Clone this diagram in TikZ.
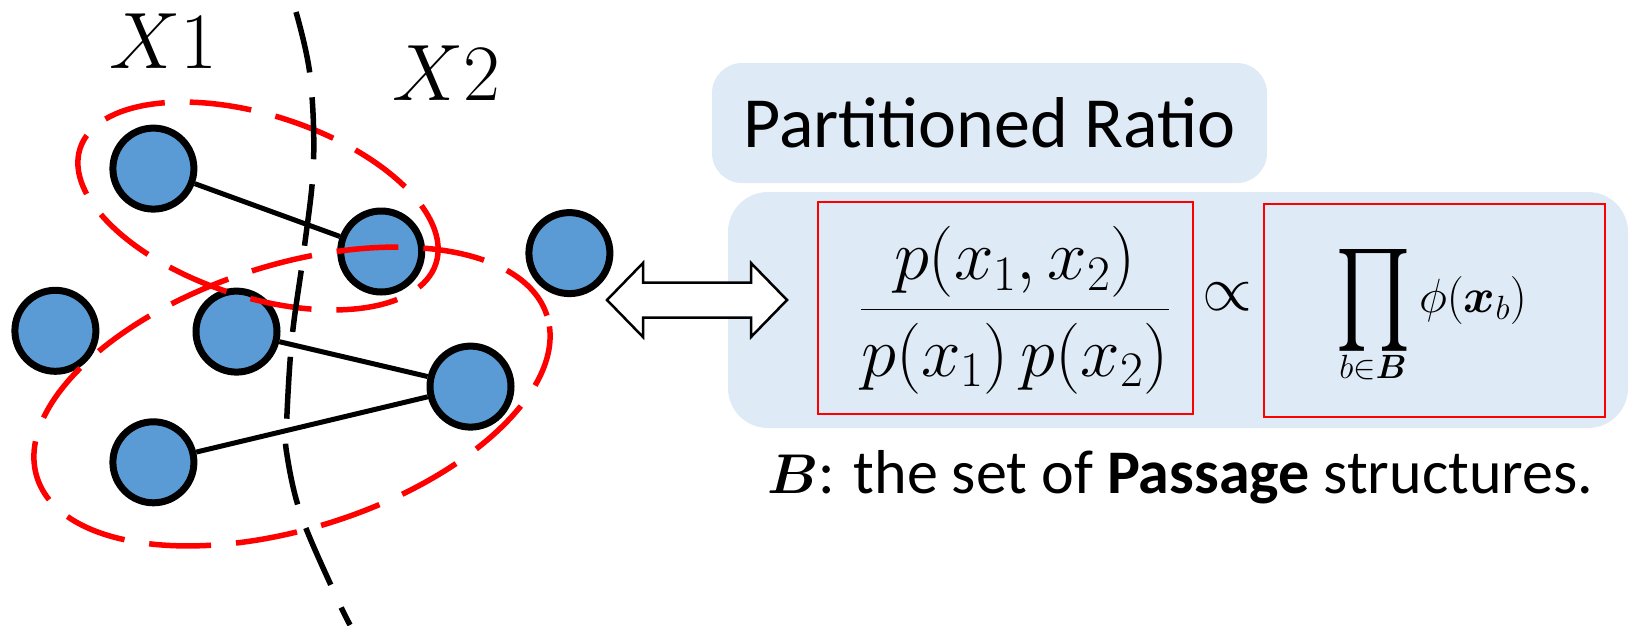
\RequirePackage{fix-cm}
\documentclass[tikz,border=0pt]{standalone}
\usepackage{fontspec}
\setmainfont{Carlito}
\usepackage{amsmath}
\usepackage{graphicx}
\definecolor{nodeblue}{HTML}{5B9BD5}
\definecolor{panelblue}{HTML}{DEEAF6}
\pgfdeclarelayer{edgelayer}
\pgfsetlayers{edgelayer,main}
\begin{document}
\begin{tikzpicture}[x=1pt,y=1pt,
  gnode/.style={circle, draw=black, line width=7pt, fill=nodeblue, minimum size=81pt, inner sep=0pt},
  gedge/.style={line width=5pt, draw=black},
  part/.style={draw=red, line width=5.5pt, dash pattern=on 62pt off 25pt},
  cut/.style={draw=black, line width=5.5pt, dash pattern=on 62pt off 25pt},
  panel/.style={fill=panelblue, draw=none, inner sep=0pt},
  redbox/.style={draw=red, line width=2.2pt, inner sep=0pt},
  dblarrow/.style={draw=black, fill=white, line width=2.5pt, line join=miter},
  lbl/.style={inner sep=0pt, anchor=base}
]
\useasboundingbox (0,0) rectangle (1630,-625);

% left graph
\node[gnode] (n1) at (153.4,-168.6) {};
\node[gnode] (n2) at (381.2,-251.5) {};
\node[gnode] (n3) at (569.4,-253.1) {};
\node[gnode] (n4) at (55.4,-330.8) {};
\node[gnode] (n5) at (236.5,-331.6) {};
\node[gnode] (n6) at (470.5,-386.6) {};
\node[gnode] (n7) at (153.4,-462.3) {};
\begin{pgfonlayer}{edgelayer}
\draw[gedge] (n1) -- (n2);
\draw[gedge] (n5) -- (n6);
\draw[gedge] (n7) -- (n6);
\end{pgfonlayer}

% partitions
\draw[part, rotate around={-17.9:(258,-206)}] (258,-206) ellipse [x radius=187pt, y radius=91pt];
\draw[part, rotate around={17.6:(292,-396.5)}] (292,-396.5) ellipse [x radius=267.5pt, y radius=131.8pt];

% cut
\draw[cut] plot[smooth, tension=0.6] coordinates {(296,-12) (310,-75) (313.5,-163) (304,-250) (292,-338) (286.5,-425) (287,-455) (301,-515) (334,-592) (350,-625)};

\node[lbl] (x1) at (163.5,-68) {\fontsize{80}{96}\selectfont $X1$};
\node[lbl] (x2) at (446.5,-100) {\fontsize{80}{96}\selectfont $X2$};

% right panels
\node[panel, rounded corners=30pt, minimum width=555pt, minimum height=120pt] (title) at (989.5,-123) {\fontsize{72}{86}\selectfont Partitioned Ratio};
\node[panel, rounded corners=40pt, minimum width=900pt, minimum height=236pt] (panel) at (1178,-310) {};
\node[redbox, minimum width=375pt, minimum height=212pt] (fracbox) at (1005.5,-308) {};
\node[redbox, minimum width=341pt, minimum height=213pt] (prodbox) at (1434.5,-310.5) {};

% double arrow
\draw[dblarrow] (607,-300) -- (643,-263) -- (643,-282.5) -- (751,-282.5) -- (751,-263) -- (787,-300) -- (751,-337) -- (751,-317.5) -- (643,-317.5) -- (643,-337) -- cycle;

\node[inner sep=0pt] (frac) at (1015,-310) {\fontsize{71}{84}\selectfont $\dfrac{p(x_1,x_2)}{p(x_1)\,p(x_2)}$};
\node[inner sep=0pt] (prop) at (1227,-297) {\fontsize{64}{76}\selectfont $\propto$};
\node[inner sep=0pt] (prod) at (1431,-316) {\fontsize{48}{58}\selectfont $\displaystyle\mathop{\vcenter{\hbox{\resizebox{76pt}{100pt}{$\prod$}}}}\limits_{b\in\boldsymbol{B}}\phi(\boldsymbol{x}_b)$};

\node[inner sep=0pt, anchor=base west] (note) at (767,-493) {\fontsize{56}{66}\selectfont $\boldsymbol{B}$\fontsize{62}{74}\selectfont: the set of \textbf{Passage} structures.};
\end{tikzpicture}
\end{document}
